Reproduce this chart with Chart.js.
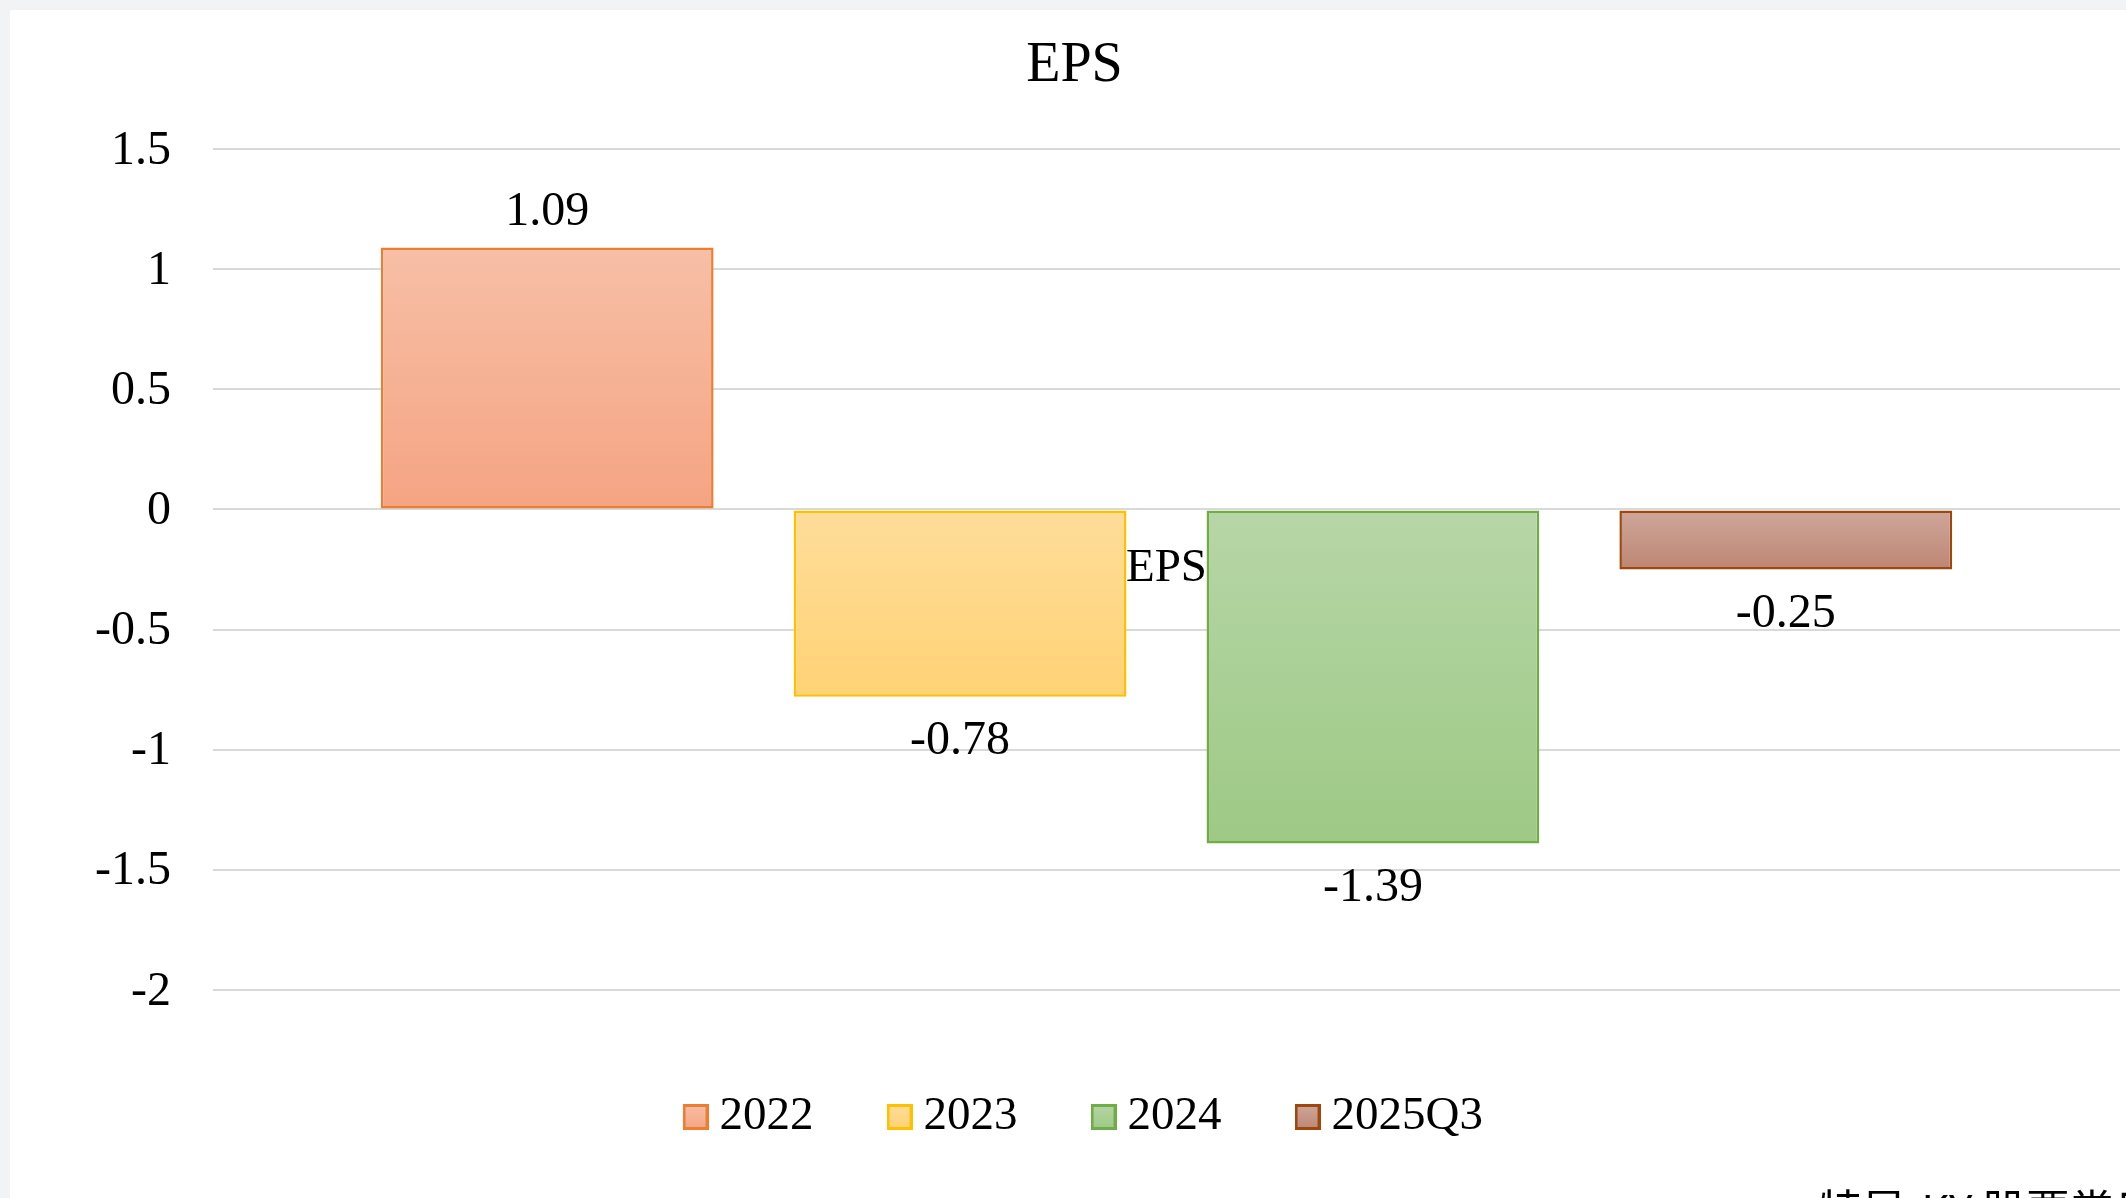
<!DOCTYPE html>
<html>
<head>
<meta charset="utf-8">
<script src="https://cdn.jsdelivr.net/npm/chart.js@4.4.0/dist/chart.umd.min.js"></script>
<style>
    html, body { margin: 0; padding: 0; }
    body {
        width: 2126px;
        height: 1198px;
        background: #f2f3f5;
        overflow: hidden;
        position: relative;
    }
    .panel {
        position: absolute;
        left: 10px;
        top: 10px;
        width: 2116px;
        height: 1188px;
        background: #ffffff;
    }
    .note {
        position: absolute;
        left: 1818px;
        top: 1186px;
        font: 44px "Noto Sans CJK TC", "Liberation Serif", serif;
        line-height: 1;
        white-space: nowrap;
        color: #000000;
    }
</style>
</head>
<body>
<div class="panel"><canvas id="epsChart"></canvas></div>
<div class="note">特昇-KY 股票當日</div>
<script>
// Chart data
const categories = ['EPS'];
const seriesNames = ['2022', '2023', '2024', '2025Q3'];
const epsValues = [1.09, -0.78, -1.39, -0.25];
const tickValues = [-2, -1.5, -1, -0.5, 0, 0.5, 1, 1.5];
const tickLabels = ['-2', '-1.5', '-1', '-0.5', '0', '0.5', '1', '1.5'];

// Excel-like gradient fills (light top, darker bottom)
const topColors = ['#f7bfa6', '#fedd9a', '#b7d6a7', '#cea79b'];
const bottomColors = ['#f5a483', '#ffd275', '#9dc985', '#be8673'];
const midColors = ['#f6b195', '#fed888', '#aad096', '#c69787'];
const borderColors = ['#ed7d31', '#ffc000', '#70ad47', '#9e480e'];

const serif = '"Liberation Serif", "Times New Roman", serif';

function barFill(i) {
    return (context) => {
        const chart = context.chart;
        if (!chart.chartArea || context.type !== 'data' || !context.parsed) {
            return midColors[i];
        }
        const y = chart.scales.y;
        const v = context.parsed.y;
        const top = y.getPixelForValue(Math.max(v, 0));
        const bottom = y.getPixelForValue(Math.min(v, 0));
        if (!isFinite(top) || !isFinite(bottom) || top === bottom) return midColors[i];
        const g = chart.ctx.createLinearGradient(0, top, 0, bottom);
        g.addColorStop(0, topColors[i]);
        g.addColorStop(1, bottomColors[i]);
        return g;
    };
}

// Small gradient squares for the legend
function legendBox(i) {
    const size = 26;
    const c = document.createElement('canvas');
    c.width = size;
    c.height = size;
    const ctx = c.getContext('2d');
    const g = ctx.createLinearGradient(0, 0, 0, size);
    g.addColorStop(0, topColors[i]);
    g.addColorStop(1, bottomColors[i]);
    ctx.fillStyle = g;
    ctx.fillRect(0, 0, size, size);
    ctx.strokeStyle = borderColors[i];
    ctx.lineWidth = 3;
    ctx.strokeRect(1.5, 1.5, size - 3, size - 3);
    return c;
}
const legendBoxes = seriesNames.map((n, i) => legendBox(i));

// Value labels above / below each bar
const valueLabels = {
    id: 'valueLabels',
    afterDatasetsDraw(chart) {
        const ctx = chart.ctx;
        ctx.save();
        ctx.font = '48px ' + serif;
        ctx.fillStyle = '#000000';
        ctx.textAlign = 'center';
        ctx.textBaseline = 'middle';
        chart.data.datasets.forEach((ds, i) => {
            chart.getDatasetMeta(i).data.forEach((bar, j) => {
                const v = ds.data[j];
                const y = v >= 0 ? bar.y - 35 : bar.y + 45;
                ctx.fillText(String(v), bar.x, y);
            });
        });
        ctx.restore();
    }
};

// Legend sits a bit right of the canvas centre in the original
const legendNudge = {
    id: 'legendNudge',
    afterLayout(chart) {
        if (chart.legend) {
            chart.legend.left += 14.5;
            chart.legend.right += 14.5;
        }
    }
};

const datasets = seriesNames.map((name, i) => ({
    label: name,
    data: [epsValues[i]],
    backgroundColor: barFill(i),
    borderColor: borderColors[i],
    borderWidth: 2.5,
    borderSkipped: false,
    categoryPercentage: 0.866,
    barPercentage: 0.806
}));

new Chart(document.getElementById('epsChart'), {
    type: 'bar',
    data: {
        labels: categories,
        datasets: datasets
    },
    options: {
        responsive: true,
        maintainAspectRatio: false,
        animation: false,
        layout: {
            padding: { left: 19, right: 6, top: 0, bottom: 47.5 }
        },
        plugins: {
            title: {
                display: true,
                text: 'EPS',
                color: '#000000',
                font: { family: serif, size: 56, weight: 'normal' },
                padding: { top: 23, bottom: 48.8 }
            },
            legend: {
                position: 'bottom',
                title: {
                    display: true,
                    text: '',
                    font: { size: 10 },
                    padding: { top: 6, bottom: 0 }
                },
                labels: {
                    usePointStyle: true,
                    pointStyleWidth: 1,
                    padding: 85.5,
                    color: '#000000',
                    font: { family: serif, size: 47 },
                    generateLabels(chart) {
                        const items = Chart.defaults.plugins.legend.labels.generateLabels(chart);
                        items.forEach((item, i) => {
                            item.pointStyle = legendBoxes[i];
                        });
                        return items;
                    }
                }
            },
            tooltip: { enabled: false }
        },
        scales: {
            x: {
                position: { y: 0 },
                grid: { display: false, drawTicks: false },
                border: { display: false },
                ticks: {
                    padding: 31,
                    color: '#000000',
                    font: { family: serif, size: 47 }
                }
            },
            y: {
                min: -2,
                max: 1.5,
                afterFit(scale) {
                    scale.width = 184;
                },
                afterBuildTicks(scale) {
                    scale.ticks = tickValues.map(v => ({ value: v }));
                },
                ticks: {
                    padding: 42,
                    labelOffset: 2,
                    color: '#000000',
                    font: { family: serif, size: 48 },
                    callback: (value) => tickLabels[tickValues.indexOf(value)]
                },
                grid: {
                    color: '#d9d9d9',
                    lineWidth: 2,
                    drawTicks: false
                },
                border: { display: false }
            }
        }
    },
    plugins: [valueLabels, legendNudge]
});
</script>
</body>
</html>
